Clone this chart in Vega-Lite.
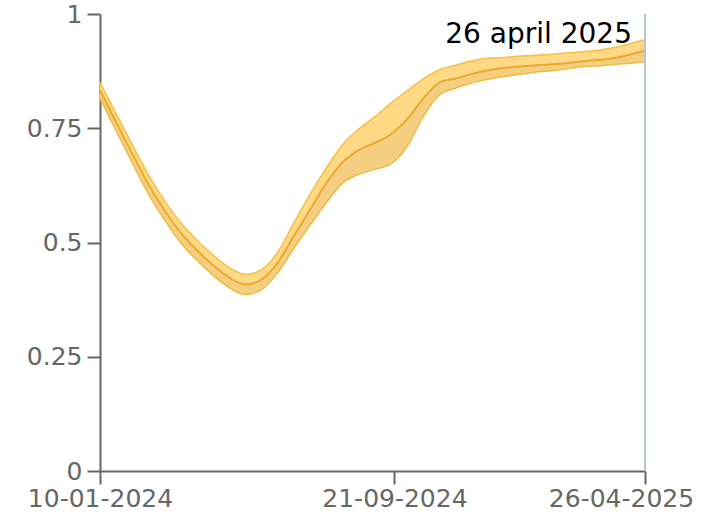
{
  "$schema": "https://vega.github.io/schema/vega-lite/v6.json",
  "width": 545,
  "height": 457,
  "autosize": "none",
  "padding": {"left": 100, "top": 14, "right": 69, "bottom": 51},
  "background": "white",
  "config": {"view": {"stroke": null}, "font": "DejaVu Sans"},
  "datasets": {
    "band": [
      {"date": "2024-01-10", "lo": 0.815, "m": 0.833, "hi": 0.851},
      {"date": "2024-01-24", "lo": 0.744, "m": 0.763, "hi": 0.782},
      {"date": "2024-02-07", "lo": 0.674, "m": 0.694, "hi": 0.714},
      {"date": "2024-02-21", "lo": 0.606, "m": 0.627, "hi": 0.648},
      {"date": "2024-03-06", "lo": 0.549, "m": 0.570, "hi": 0.591},
      {"date": "2024-03-20", "lo": 0.499, "m": 0.521, "hi": 0.543},
      {"date": "2024-04-03", "lo": 0.461, "m": 0.483, "hi": 0.505},
      {"date": "2024-04-17", "lo": 0.428, "m": 0.450, "hi": 0.472},
      {"date": "2024-05-01", "lo": 0.401, "m": 0.423, "hi": 0.445},
      {"date": "2024-05-15", "lo": 0.386, "m": 0.408, "hi": 0.430},
      {"date": "2024-05-29", "lo": 0.397, "m": 0.419, "hi": 0.441},
      {"date": "2024-06-12", "lo": 0.434, "m": 0.456, "hi": 0.479},
      {"date": "2024-06-26", "lo": 0.488, "m": 0.515, "hi": 0.543},
      {"date": "2024-07-10", "lo": 0.538, "m": 0.572, "hi": 0.606},
      {"date": "2024-07-24", "lo": 0.587, "m": 0.630, "hi": 0.663},
      {"date": "2024-08-07", "lo": 0.630, "m": 0.675, "hi": 0.714},
      {"date": "2024-08-21", "lo": 0.649, "m": 0.702, "hi": 0.748},
      {"date": "2024-09-04", "lo": 0.660, "m": 0.718, "hi": 0.775},
      {"date": "2024-09-18", "lo": 0.672, "m": 0.737, "hi": 0.805},
      {"date": "2024-10-02", "lo": 0.710, "m": 0.770, "hi": 0.832},
      {"date": "2024-10-16", "lo": 0.776, "m": 0.815, "hi": 0.858},
      {"date": "2024-10-30", "lo": 0.823, "m": 0.850, "hi": 0.878},
      {"date": "2024-11-13", "lo": 0.838, "m": 0.859, "hi": 0.888},
      {"date": "2024-11-27", "lo": 0.849, "m": 0.869, "hi": 0.897},
      {"date": "2024-12-11", "lo": 0.857, "m": 0.877, "hi": 0.903},
      {"date": "2024-12-25", "lo": 0.863, "m": 0.882, "hi": 0.905},
      {"date": "2025-01-08", "lo": 0.868, "m": 0.885, "hi": 0.908},
      {"date": "2025-01-22", "lo": 0.873, "m": 0.888, "hi": 0.910},
      {"date": "2025-02-05", "lo": 0.876, "m": 0.890, "hi": 0.912},
      {"date": "2025-02-19", "lo": 0.881, "m": 0.893, "hi": 0.915},
      {"date": "2025-03-05", "lo": 0.885, "m": 0.897, "hi": 0.918},
      {"date": "2025-03-19", "lo": 0.887, "m": 0.900, "hi": 0.922},
      {"date": "2025-04-02", "lo": 0.890, "m": 0.905, "hi": 0.928},
      {"date": "2025-04-16", "lo": 0.893, "m": 0.913, "hi": 0.937},
      {"date": "2025-04-26", "lo": 0.896, "m": 0.920, "hi": 0.944}
    ],
    "marker": [
      {"date": "2025-04-26", "top": 1, "bottom": 0, "label": "26 april 2025"}
    ]
  },
  "layer": [
    {
      "data": {"name": "band"},
      "mark": {"type": "area", "interpolate": "monotone", "color": "#FFD986", "stroke": null},
      "encoding": {
        "x": {
          "field": "date", "type": "temporal",
          "scale": {"domain": ["2024-01-10", "2025-04-26"]},
          "axis": {
            "title": null,
            "values": ["2024-01-10", "2024-09-21", "2025-04-26"],
            "labelExpr": "timeFormat(datum.value, '%d-%m-%Y')",
            "labelFontSize": 25,
            "labelColor": "#666666",
            "labelFont": "DejaVu Sans",
            "labelPadding": 2,
            "labelOffset": {"condition": {"test": "datum.value > 1740000000000", "value": -24}, "value": 0},
            "domainColor": "#666666",
            "domainWidth": 2,
            "tickColor": "#666666",
            "tickWidth": 2,
            "tickSize": 13,
            "grid": false,
            "labelOverlap": false,
            "labelFlush": false
          }
        },
        "y": {
          "field": "hi", "type": "quantitative",
          "scale": {"domain": [0, 1], "nice": false},
          "axis": {
            "title": null,
            "values": [0, 0.25, 0.5, 0.75, 1],
            "labelExpr": "'' + datum.value",
            "labelFontSize": 25,
            "labelColor": "#666666",
            "labelFont": "DejaVu Sans",
            "labelPadding": 5,
            "domainColor": "#666666",
            "domainWidth": 2,
            "tickColor": "#666666",
            "tickWidth": 2,
            "tickSize": 13,
            "grid": false,
            "labelFlush": false
          }
        },
        "y2": {"field": "m"}
      }
    },
    {
      "data": {"name": "band"},
      "mark": {"type": "area", "interpolate": "monotone", "color": "#F4CF82", "stroke": null},
      "encoding": {
        "x": {"field": "date", "type": "temporal"},
        "y": {"field": "m", "type": "quantitative"},
        "y2": {"field": "lo"}
      }
    },
    {
      "data": {"name": "band"},
      "mark": {"type": "line", "interpolate": "monotone", "color": "#F6BF45", "strokeWidth": 1.5},
      "encoding": {
        "x": {"field": "date", "type": "temporal"},
        "y": {"field": "hi", "type": "quantitative"}
      }
    },
    {
      "data": {"name": "band"},
      "mark": {"type": "line", "interpolate": "monotone", "color": "#F0BA45", "strokeWidth": 1.5},
      "encoding": {
        "x": {"field": "date", "type": "temporal"},
        "y": {"field": "lo", "type": "quantitative"}
      }
    },
    {
      "data": {"name": "band"},
      "mark": {"type": "line", "interpolate": "monotone", "color": "#EBA92F", "strokeWidth": 2},
      "encoding": {
        "x": {"field": "date", "type": "temporal"},
        "y": {"field": "m", "type": "quantitative"}
      }
    },
    {
      "data": {"name": "marker"},
      "mark": {"type": "rule", "color": "#B7C4C9", "strokeWidth": 2},
      "encoding": {
        "x": {"field": "date", "type": "temporal"},
        "y": {"field": "top", "type": "quantitative"},
        "y2": {"field": "bottom"}
      }
    },
    {
      "data": {"name": "marker"},
      "mark": {"type": "text", "align": "right", "baseline": "alphabetic", "dx": -13, "dy": 29, "fontSize": 28, "font": "DejaVu Sans", "color": "#000000"},
      "encoding": {
        "x": {"field": "date", "type": "temporal"},
        "y": {"field": "top", "type": "quantitative"},
        "text": {"field": "label"}
      }
    }
  ]
}
